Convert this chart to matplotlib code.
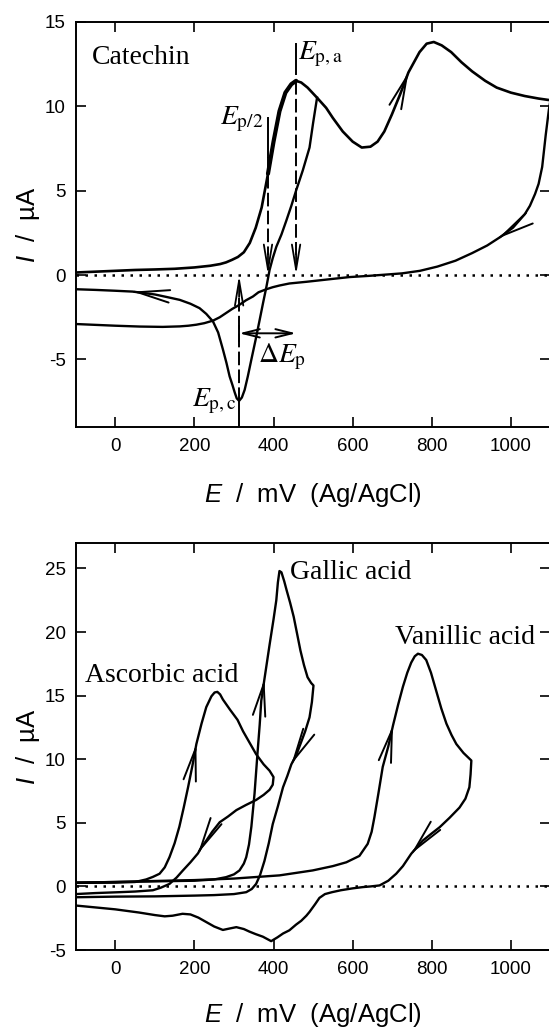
import matplotlib
matplotlib.use('Agg')
import matplotlib.pyplot as plt
import numpy as np

# Cyclic voltammograms: catechin (top) and three reference acids (bottom)

plt.rcParams.update({
    'font.family': 'Liberation Sans',
    'mathtext.fontset': 'custom',
    'mathtext.it': 'Liberation Sans:italic',
    'mathtext.rm': 'Liberation Sans',
    'axes.unicode_minus': False,
})

# ---- catechin (top panel) ----
cat_fwd_E = [-100, -50, 0, 50, 100, 150, 200, 240, 265, 280, 295, 310, 325, 340, 355, 370, 386,
             400, 415, 430, 445, 457, 470, 486, 510, 533, 550, 575, 600, 623, 645, 663, 680, 699,
             720, 741, 769, 787, 805, 825, 849, 875, 902, 935, 964, 1000, 1035, 1070, 1100]
cat_fwd_I = [0.15, 0.2, 0.25, 0.3, 0.33, 0.37, 0.45, 0.55, 0.65, 0.75, 0.9, 1.07, 1.35, 1.9, 2.8, 4.0, 6.0,
             7.9, 9.7, 10.8, 11.3, 11.5, 11.4, 11.1, 10.5, 9.9, 9.3, 8.5, 7.9, 7.55, 7.6, 7.9, 8.5, 9.5,
             10.7, 12.0, 13.2, 13.7, 13.8, 13.6, 13.2, 12.6, 12.06, 11.5, 11.1, 10.8, 10.6, 10.45, 10.35]

cat_wide_E = [1100, 1096, 1088, 1079, 1070, 1061, 1048, 1035, 1005, 973, 940, 902, 860, 814, 770, 725,
              680, 640, 592, 541, 483, 440, 415, 398, 382, 362, 348, 330, 314, 296, 280, 264, 247,
              225, 205, 185, 163, 120, 62, 0, -50, -100]
cat_wide_I = [10.35, 9.8, 8.3, 6.4, 5.4, 4.8, 4.1, 3.6, 2.8, 2.25, 1.75, 1.3, 0.85, 0.5, 0.25, 0.1,
              0.02, -0.05, -0.12, -0.25, -0.4, -0.5, -0.62, -0.72, -0.84, -1.02, -1.27, -1.5, -1.76,
              -2.0, -2.25, -2.5, -2.7, -2.85, -2.94, -3.0, -3.04, -3.07, -3.05, -3.0, -2.95, -2.9]

cat_narrow_E = [510, 500, 491, 474, 457, 445, 432, 420, 407, 398, 390, 382, 374, 365, 355, 344, 335,
                327, 320, 313, 307, 302, 296, 289, 281, 272, 260, 247, 230, 213, 190, 163, 130, 100,
                44, 0, -50, -100]
cat_narrow_I = [10.5, 9.0, 7.55, 6.2, 5.0, 4.1, 3.2, 2.4, 1.67, 1.0, 0.3, -0.7, -1.6, -2.65, -3.8,
                -5.0, -6.0, -6.8, -7.25, -7.45, -7.3, -6.96, -6.5, -6.0, -5.2, -4.4, -3.4, -2.75,
                -2.3, -1.96, -1.7, -1.47, -1.3, -1.15, -0.98, -0.93, -0.88, -0.84]

E_half, E_pa, E_pc = 386, 457, 313

# ---- ascorbic, gallic, vanillic acid (bottom panel) ----
asc_fwd_E = [-100, -50, 0, 50, 78, 95, 112, 125, 137, 150, 162, 173, 184, 195, 205, 218, 230, 243,
             251, 258, 265, 272, 290, 309, 323, 345, 356, 375, 390, 400]
asc_fwd_I = [0.28, 0.29, 0.3, 0.35, 0.55, 0.75, 1.0, 1.5, 2.3, 3.4, 4.7, 6.2, 7.8, 9.5, 11.2, 12.8,
             14.1, 14.95, 15.25, 15.3, 15.1, 14.7, 13.9, 13.1, 12.2, 11.0, 10.4, 9.6, 9.1, 8.6]
asc_rev_E = [400, 398, 390, 375, 356, 330, 306, 285, 264, 245, 230, 218, 209, 190, 171, 155, 137,
             115, 95, 50, 11, -50, -100]
asc_rev_I = [8.6, 8.0, 7.6, 7.2, 6.8, 6.4, 6.0, 5.5, 5.05, 4.3, 3.6, 3.1, 2.6, 1.9, 1.26, 0.7, 0.2,
             -0.1, -0.3, -0.4, -0.45, -0.52, -0.6]

gal_fwd_E = [-100, 0, 100, 200, 250, 280, 300, 314, 325, 331, 338, 344, 348, 352, 356, 360, 365, 369,
             377, 390, 400, 407, 411, 415, 420, 427, 433, 442, 451, 460, 468, 477, 486, 495, 501]
gal_fwd_I = [0.3, 0.35, 0.4, 0.45, 0.55, 0.73, 0.95, 1.26, 1.8, 2.3, 3.3, 4.7, 6.0, 7.3, 9.0, 10.7,
             12.7, 14.6, 16.3, 19.0, 21.0, 22.5, 23.9, 24.8, 24.7, 24.0, 23.3, 22.3, 21.2, 19.8,
             18.55, 17.4, 16.45, 16.0, 15.8]
gal_rev_E = [501, 497, 491, 480, 468, 457, 445, 435, 424, 411, 398, 388, 377, 366, 356, 345, 331,
             300, 250, 200, 150, 100, 0, -100]
gal_rev_I = [15.8, 14.5, 13.3, 12.2, 11.2, 10.3, 9.6, 8.7, 7.8, 6.3, 4.9, 3.4, 2.0, 0.9, 0.2, -0.2,
             -0.45, -0.6, -0.68, -0.72, -0.75, -0.78, -0.8, -0.85]

van_fwd_E = [-100, 0, 100, 200, 300, 415, 499, 550, 584, 617, 638, 648, 655, 665, 676, 690, 702,
             715, 727, 738, 748, 757, 765, 775, 786, 798, 811, 824, 837, 850, 862, 880, 900]
van_fwd_I = [0.3, 0.35, 0.43, 0.5, 0.62, 0.87, 1.26, 1.6, 1.9, 2.4, 3.35, 4.3, 5.45, 7.3, 9.4, 11.0,
             12.66, 14.3, 15.7, 16.8, 17.6, 18.1, 18.3, 18.2, 17.8, 16.8, 15.4, 14.0, 12.8, 11.9,
             11.2, 10.5, 9.9]
van_rev_E = [900, 898, 895, 885, 870, 845, 820, 797, 777, 760, 748, 727, 710, 690, 668, 645, 626,
             600, 570, 548, 530, 516, 505, 491, 483, 470, 457, 440, 424, 410, 394, 385, 373, 355,
             339, 325, 306, 290, 272, 250, 230, 210, 190, 170, 145, 125, 100, 60, 0, -50, -100]
van_rev_I = [9.9, 8.8, 7.8, 6.9, 6.2, 5.4, 4.66, 4.1, 3.6, 3.0, 2.57, 1.6, 1.0, 0.45, 0.08, 0.0,
             -0.05, -0.15, -0.3, -0.45, -0.6, -0.9, -1.4, -2.0, -2.3, -2.7, -3.0, -3.45, -3.7,
             -4.0, -4.3, -4.15, -3.95, -3.75, -3.55, -3.35, -3.2, -3.3, -3.42, -3.15, -2.8, -2.45,
             -2.2, -2.15, -2.3, -2.35, -2.25, -2.05, -1.8, -1.65, -1.5]

x_ticks = [0, 200, 400, 600, 800, 1000]
serif = 'Liberation Serif'
LW = 1.7


def flow_arrow(ax, E, I, e_tip, forward=True, hl=2.3, hw=0.45):
    # direction arrow placed on a scan branch at potential e_tip
    E = np.asarray(E, float); I = np.asarray(I, float)
    if not forward:
        E, I = E[::-1], I[::-1]
    d = 4 if forward else -4
    tip = (e_tip, np.interp(e_tip, E, I))
    tail = (e_tip - d, np.interp(e_tip - d, E, I))
    ax.annotate('', xy=tip, xytext=tail,
                arrowprops=dict(arrowstyle=f'->,head_length={hl},head_width={hw}',
                                lw=1.4, color='k', shrinkA=0, shrinkB=0, mutation_scale=10))


def style(ax, ylim, yticks, lab_y):
    ax.set_xlim(-100, 1100)
    ax.set_ylim(*ylim)
    ax.set_xticks(x_ticks)
    ax.set_yticks(yticks)
    ax.tick_params(direction='in', length=7, width=1.2, top=True, right=True,
                   labelsize=13.5, color='k')
    ax.tick_params(axis='x', pad=8)
    ax.tick_params(axis='y', pad=7)
    for s in ax.spines.values():
        s.set_linewidth(1.4)
    ax.axhline(0, color='k', lw=1.8, ls=(0, (1, 2.6)), zorder=1)
    ax.set_xlabel(r'$E$  /  mV  (Ag/AgCl)', fontsize=18.5)
    ax.set_ylabel(r'$I$  /  µA', fontsize=18.5)
    ax.xaxis.set_label_coords(0.5, lab_y)
    ax.yaxis.set_label_coords(-0.072, 0.5)


fig = plt.figure(figsize=(5.49, 10.34), dpi=100)
ax1 = fig.add_axes([0.1379, 0.5870, 0.8648, 0.3920])
ax2 = fig.add_axes([0.1379, 0.0812, 0.8648, 0.3936])

# ---- top panel ----
style(ax1, (-9, 15), [-5, 0, 5, 10, 15], -0.132)
ax1.plot(cat_fwd_E, cat_fwd_I, color='k', lw=1.9)
ax1.plot(cat_wide_E, cat_wide_I, color='k', lw=LW)
ax1.plot(cat_narrow_E, cat_narrow_I, color='k', lw=LW)
bold = [(e, i) for e, i in zip(cat_fwd_E, cat_fwd_I) if E_half <= e <= E_pa]
ax1.plot(*zip(*bold), color='k', lw=3.0, solid_capstyle='round')

flow_arrow(ax1, cat_fwd_E, cat_fwd_I, 741, True)
flow_arrow(ax1, cat_wide_E, cat_wide_I, 968, False)
flow_arrow(ax1, cat_narrow_E, cat_narrow_I, 44, False)

dash = (0, (7, 2.2))
head = dict(arrowstyle='->,head_length=1.8,head_width=0.3', lw=1.3, color='k',
            shrinkA=0, shrinkB=0, mutation_scale=10)
# E_p/2
ax1.plot([E_half, E_half], [7.0, 9.3], color='k', lw=1.4)
ax1.plot([E_half, E_half], [7.0, 1.2], color='k', lw=1.4, ls=dash)
ax1.annotate('', xy=(E_half, 0), xytext=(E_half, 1.3), arrowprops=head)
# E_p,a
ax1.plot([E_pa, E_pa], [11.9, 13.7], color='k', lw=1.4)
ax1.plot([E_pa, E_pa], [11.5, 1.2], color='k', lw=1.4, ls=dash)
ax1.annotate('', xy=(E_pa, 0), xytext=(E_pa, 1.3), arrowprops=head)
# E_p,c
ax1.plot([E_pc, E_pc], [-9, -7.45], color='k', lw=1.4)
ax1.plot([E_pc, E_pc], [-3.0, -3.9], color='k', lw=1.4)
ax1.plot([E_pc, E_pc], [-7.45, -1.2], color='k', lw=1.4, ls=dash)
ax1.annotate('', xy=(E_pc, 0), xytext=(E_pc, -1.3), arrowprops=head)
# delta E_p
ax1.annotate('', xy=(E_pa, -3.45), xytext=(E_pc, -3.45),
             arrowprops=dict(arrowstyle='<->,head_length=1.2,head_width=0.3', lw=1.4,
                             color='k', shrinkA=0, shrinkB=0, mutation_scale=10))

ax1.text(-58, 12.5, 'Catechin', family=serif, fontsize=20, va='baseline')
ax1.text(463, 12.75, r'$E_{\mathrm{p,a}}$', math_fontfamily='stix', fontsize=20, va='baseline')
ax1.text(375, 8.9, r'$E_{\mathrm{p/2}}$', math_fontfamily='stix', fontsize=20, va='baseline', ha='right')
ax1.text(305, -7.75, r'$E_{\mathrm{p,c}}$', math_fontfamily='stix', fontsize=20, va='baseline', ha='right')
ax1.text(362, -5.2, r'$\Delta E_{\mathrm{p}}$', math_fontfamily='stix', fontsize=20, va='baseline')

# ---- bottom panel ----
style(ax2, (-5, 27), [-5, 0, 5, 10, 15, 20, 25], -0.126)
for fE, fI, rE, rI in [(asc_fwd_E, asc_fwd_I, asc_rev_E, asc_rev_I),
                       (gal_fwd_E, gal_fwd_I, gal_rev_E, gal_rev_I),
                       (van_fwd_E, van_fwd_I, van_rev_E, van_rev_I)]:
    ax2.plot(fE + rE, fI + rI, color='k', lw=LW)

flow_arrow(ax2, asc_fwd_E, asc_fwd_I, 205, True)
flow_arrow(ax2, asc_rev_E, asc_rev_I, 209, False)
flow_arrow(ax2, gal_fwd_E, gal_fwd_I, 377, True)
flow_arrow(ax2, gal_rev_E, gal_rev_I, 445, False)
flow_arrow(ax2, van_fwd_E, van_fwd_I, 702, True)
flow_arrow(ax2, van_rev_E, van_rev_I, 748, False)

ax2.text(-76, 16.06, 'Ascorbic acid', family=serif, fontsize=20, va='baseline')
ax2.text(441, 24.2, 'Gallic acid', family=serif, fontsize=20, va='baseline')
ax2.text(706, 19.1, 'Vanillic acid', family=serif, fontsize=20, va='baseline')

fig.savefig('out.png', dpi=100)
